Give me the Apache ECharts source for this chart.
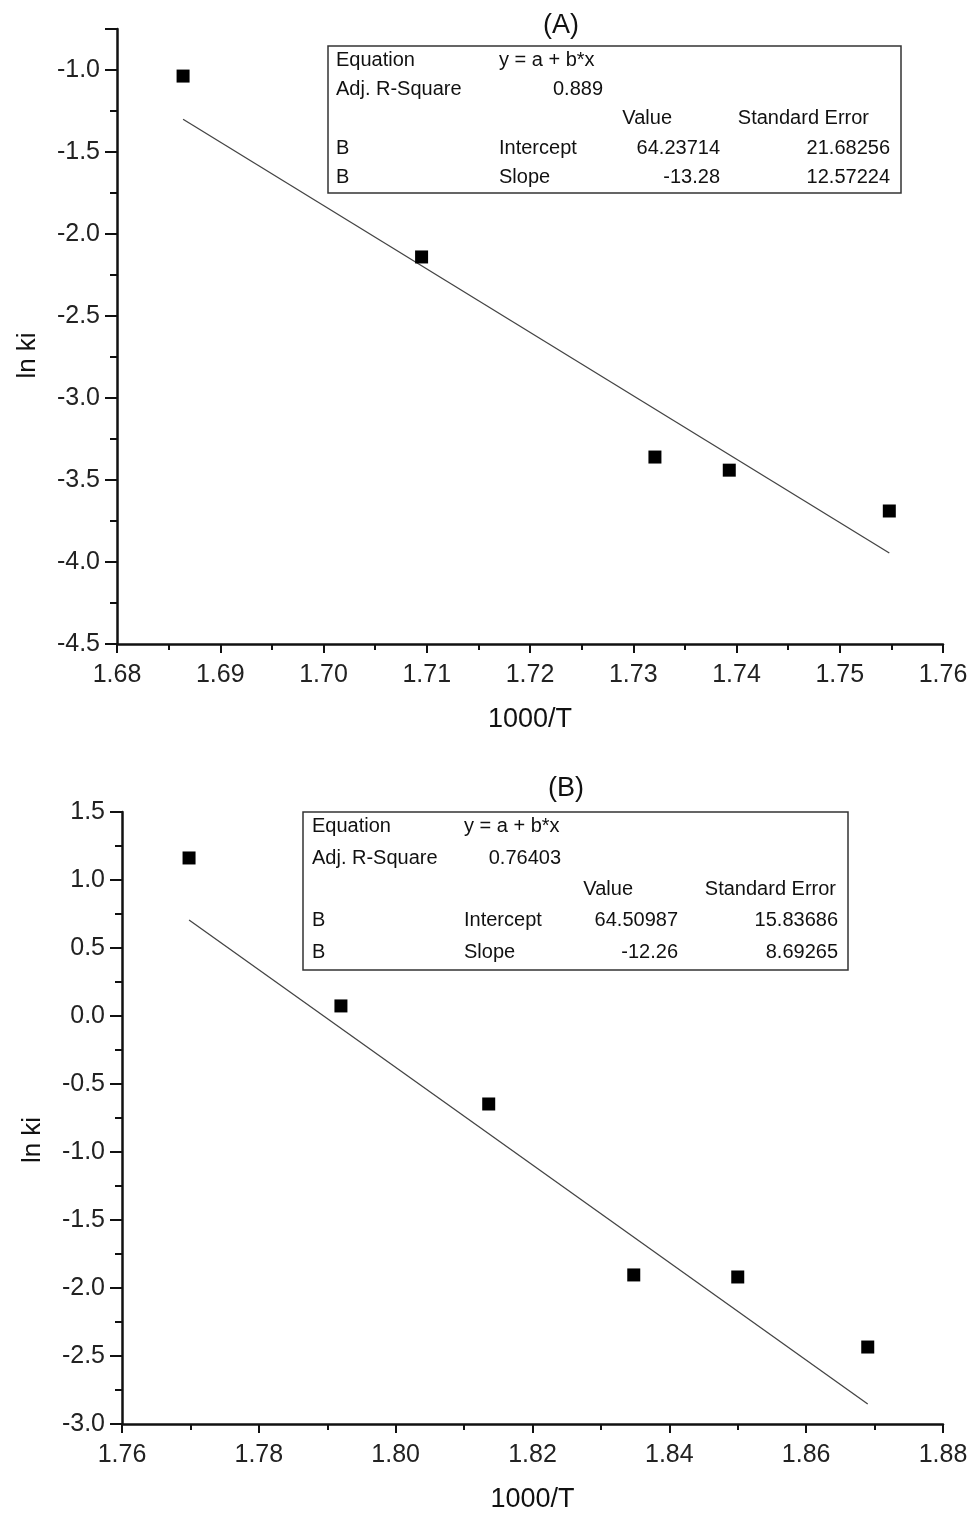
<!DOCTYPE html>
<html>
<head>
<meta charset="utf-8">
<script src="https://cdn.jsdelivr.net/npm/echarts@6/dist/echarts.min.js"></script>
<style>
  html, body { margin: 0; padding: 0; background: #fff; }
  #chart { width: 973px; height: 1515px; }
</style>
</head>
<body>
<div id="chart"></div>
<script>
// (A) measured points and fitted line
const xA = [1.6864, 1.7095, 1.7321, 1.7393, 1.7548]
const yA = [-1.037, -2.14, -3.36, -3.44, -3.689]
const fitAx = [1.6864, 1.7548]
const fitAy = [-1.30, -3.945]

// (B) measured points and fitted line
const xB = [1.7698, 1.792, 1.8136, 1.8348, 1.85, 1.869]
const yB = [1.162, 0.074, -0.647, -1.904, -1.919, -2.434]
const fitBx = [1.7698, 1.869]
const fitBy = [0.706, -2.853]

// fit statistics tables
const statsA = {
  equation: 'y = a + b*x',
  adjR2: '0.889',
  intercept: ['64.23714', '21.68256'],
  slope: ['-13.28', '12.57224']
}
const statsB = {
  equation: 'y = a + b*x',
  adjR2: '0.76403',
  intercept: ['64.50987', '15.83686'],
  slope: ['-12.26', '8.69265']
}

const FONT = '"Liberation Sans", Arial, sans-serif'

function pairs(xs, ys) {
  return xs.map((x, i) => [x, ys[i]])
}

function xAxisOf(gridIndex, min, max, interval) {
  return {
    type: 'value',
    gridIndex,
    min, max, interval,
    name: '1000/T',
    nameLocation: 'middle',
    nameGap: 62,
    nameTextStyle: { fontFamily: FONT, fontSize: 27, color: '#111' },
    axisLine: { onZero: false, lineStyle: { color: '#111', width: 2.5 } },
    axisTick: { inside: false, length: 9, lineStyle: { color: '#111', width: 2 } },
    minorTick: { show: true, splitNumber: 2, length: 6, lineStyle: { color: '#111', width: 2 } },
    splitLine: { show: false },
    axisLabel: {
      margin: 19,
      fontFamily: FONT, fontSize: 25, color: '#222',
      formatter: v => v.toFixed(2)
    }
  }
}

function yAxisOf(gridIndex, min, max, interval, shift) {
  return {
    type: 'value',
    gridIndex,
    min, max, interval,
    name: 'ln ki',
    nameLocation: 'middle',
    nameGap: 76,
    nameTextStyle: { fontFamily: FONT, fontSize: 26, color: '#111', padding: [0, shift, 0, 0] },
    axisLine: { onZero: false, lineStyle: { color: '#111', width: 2.5 } },
    axisTick: { inside: false, length: 12, lineStyle: { color: '#111', width: 2 } },
    minorTick: { show: true, splitNumber: 2, length: 7, lineStyle: { color: '#111', width: 2 } },
    splitLine: { show: false },
    axisLabel: {
      margin: 17,
      fontFamily: FONT, fontSize: 25, color: '#222',
      showMaxLabel: max % interval === 0,
      formatter: v => v.toFixed(1)
    }
  }
}

// results table drawn over the plot, as in Origin
function statsTable(s, box, cols, rows) {
  const txt = (text, x, y, align) => ({
    type: 'text',
    x, y,
    style: {
      text, fontFamily: FONT, fontSize: 20, fill: '#111',
      align: align || 'left', verticalAlign: 'middle'
    }
  })
  return {
    type: 'group',
    children: [
      {
        type: 'rect',
        shape: box,
        style: { fill: '#fff', stroke: '#333', lineWidth: 1.5 }
      },
      txt('Equation', cols[0], rows[0]),
      txt(s.equation, cols[1], rows[0]),
      txt('Adj. R-Square', cols[0], rows[1]),
      txt(s.adjR2, cols[2], rows[1], 'right'),
      txt('Value', cols[3], rows[2], 'right'),
      txt('Standard Error', cols[5], rows[2], 'right'),
      txt('B', cols[0], rows[3]),
      txt('Intercept', cols[1], rows[3]),
      txt(s.intercept[0], cols[4], rows[3], 'right'),
      txt(s.intercept[1], cols[6], rows[3], 'right'),
      txt('B', cols[0], rows[4]),
      txt('Slope', cols[1], rows[4]),
      txt(s.slope[0], cols[4], rows[4], 'right'),
      txt(s.slope[1], cols[6], rows[4], 'right')
    ]
  }
}

const chart = echarts.init(document.getElementById('chart'))

const option = {
  backgroundColor: '#fff',
  animation: false,
  title: [
    {
      text: '(A)', left: 561, top: 12, textAlign: 'center', padding: 0,
      textStyle: { fontFamily: FONT, fontSize: 27, fontWeight: 'normal', color: '#111' }
    },
    {
      text: '(B)', left: 566, top: 775, textAlign: 'center', padding: 0,
      textStyle: { fontFamily: FONT, fontSize: 27, fontWeight: 'normal', color: '#111' }
    }
  ],
  grid: [
    { left: 117, top: 29, width: 826, height: 615 },
    { left: 122, top: 812, width: 821, height: 612 }
  ],
  xAxis: [
    xAxisOf(0, 1.68, 1.76, 0.01),
    xAxisOf(1, 1.76, 1.88, 0.02)
  ],
  yAxis: [
    yAxisOf(0, -4.5, -0.75, 0.5, 38),
    yAxisOf(1, -3.0, 1.5, 0.5, 44)
  ],
  series: [
    {
      type: 'line', xAxisIndex: 0, yAxisIndex: 0,
      data: pairs(fitAx, fitAy),
      showSymbol: false, symbol: 'none',
      lineStyle: { color: '#444', width: 1.3 }, z: 2
    },
    {
      type: 'scatter', xAxisIndex: 0, yAxisIndex: 0,
      data: pairs(xA, yA),
      symbol: 'rect', symbolSize: 13,
      itemStyle: { color: '#000', opacity: 1 }, z: 3
    },
    {
      type: 'line', xAxisIndex: 1, yAxisIndex: 1,
      data: pairs(fitBx, fitBy),
      showSymbol: false, symbol: 'none',
      lineStyle: { color: '#444', width: 1.3 }, z: 2
    },
    {
      type: 'scatter', xAxisIndex: 1, yAxisIndex: 1,
      data: pairs(xB, yB),
      symbol: 'rect', symbolSize: 13,
      itemStyle: { color: '#000', opacity: 1 }, z: 3
    }
  ],
  graphic: [
    statsTable(statsA,
      { x: 328, y: 46, width: 573, height: 147 },
      [336, 499, 603, 672, 720, 869, 890],
      [60, 89, 118, 148, 177]),
    statsTable(statsB,
      { x: 303, y: 812, width: 545, height: 158 },
      [312, 464, 561, 633, 678, 836, 838],
      [826, 858, 889, 920, 952])
  ]
}

chart.setOption(option)
</script>
</body>
</html>
